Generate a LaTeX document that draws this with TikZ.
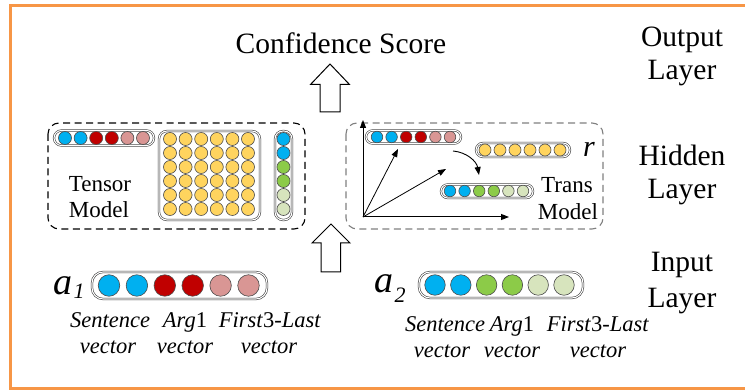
\documentclass[tikz,border=0pt]{standalone}
\usepackage{fontspec}
\setmainfont{LiberationSerif}[Extension=.ttf, UprightFont=*-Regular, ItalicFont=*-Italic, BoldFont=*-Bold, BoldItalicFont=*-BoldItalic]
\newcommand\tms{\rmfamily}
\usetikzlibrary{arrows.meta}
\definecolor{cblue}{HTML}{00B0F0}
\definecolor{cred}{HTML}{C00000}
\definecolor{cpink}{HTML}{D99694}
\definecolor{cgreen}{HTML}{8CCB48}
\definecolor{clgreen}{HTML}{D7E4BD}
\definecolor{cyellow}{HTML}{FFD45E}
\definecolor{corange}{HTML}{F79646}
\tikzset{
  dot/.style={circle, draw=black!70, line width=0.6pt, inner sep=0pt, minimum size=#1},
  capsule/.style={draw=black!80, double=white, double distance=1.1pt, line width=0.55pt},
  dashbox/.style={dash pattern=on 7pt off 4.5pt, line width=1.1pt, rounded corners=11pt},
  blockarrow/.style={draw=black, line width=1pt, fill=white, line join=miter},
  axis/.style={line width=1pt, -{Triangle[length=8pt,width=6pt]}},
  vec/.style={line width=0.8pt, -{Triangle[length=8pt,width=6pt]}},
  bigtxt/.style={font=\tms\fontsize{29.5}{34}\selectfont, inner sep=0pt, anchor=base},
  midtxt/.style={font=\tms\fontsize{23}{27}\selectfont, inner sep=0pt, anchor=base},
  lbl/.style={font=\tms\fontsize{22.5}{26}\selectfont, inner sep=0pt, anchor=base},
}
\begin{document}
\begin{tikzpicture}[x=1pt,y=-1pt]
\useasboundingbox (0,0) rectangle (745,390);
% orange frame
\draw[corange, line width=3pt] (745,6) -- (10,6) -- (10,388) -- (745,388);

% texts: output
\node[bigtxt] (conf) at (341,54) {Confidence Score};
\node[bigtxt] (outl1) at (682,47) {Output};
\node[bigtxt] (outl2) at (682,80) {Layer};
\node[bigtxt] (hidl1) at (682,166) {Hidden};
\node[bigtxt] (hidl2) at (682,199) {Layer};
\node[bigtxt] (inl1) at (682,272) {Input};
\node[bigtxt] (inl2) at (682,308) {Layer};

% block arrows
\draw[blockarrow] (330,64) -- (349.5,84.5) -- (340,84.5) -- (340,112) -- (320,112) -- (320,84.5) -- (310.5,84.5) -- cycle;
\draw[blockarrow] (331,224) -- (350,243) -- (340.5,243) -- (340.5,272) -- (321,272) -- (321,243) -- (312,243) -- cycle;

% hidden dashed boxes
\draw[dashbox, draw=black] (48,123) rectangle (305,229);
\draw[dashbox, draw=black!50] (346,123) rectangle (603,229);

% tensor model
\draw[capsule, rounded corners=7.5pt] (54,130.5) rectangle (154,145.5);
\foreach \c [count=\i from 0] in {cblue,cblue,cred,cred,cpink,cpink}
  \node[dot=13pt, fill=\c] (t\i) at ({65+15.6*\i},138) {};
\draw[capsule, rounded corners=8pt] (159,131) rectangle (260,220);
\foreach \r in {0,...,5}
  \foreach \k in {0,...,5}
    \node[dot=13pt, fill=cyellow] (m\r\k) at ({170+15.6*\k},{139+14*\r}) {};
\draw[capsule, rounded corners=8pt] (275,131) rectangle (292,220);
\foreach \c [count=\i from 0] in {cblue,cblue,cgreen,cgreen,clgreen,clgreen}
  \node[dot=13pt, fill=\c] (w\i) at (283.5,{139+14*\i}) {};
\node[midtxt] (tens1) at (100,192) {Tensor};
\node[midtxt] (tens2) at (99,218) {Model};

% trans model
\coordinate (O) at (363,217);
\coordinate (Y) at (363,120);
\coordinate (X) at (509,217);
\coordinate (v1) at (398,149);
\coordinate (v2) at (446,169);
\draw[axis] (O) -- (Y);
\draw[axis] (O) -- (X);
\draw[vec] (O) -- (v1);
\draw[vec] (O) -- (v2);
\draw[capsule, rounded corners=6.5pt] (366,130.5) rectangle (461,143.5);
\foreach \c [count=\i from 0] in {cblue,cblue,cred,cred,cpink,cpink}
  \node[dot=11.5pt, fill=\c] (h\i) at ({377+14.6*\i},137) {};
\draw[capsule, rounded corners=7pt] (476,143) rectangle (570,157);
\foreach \i in {0,...,5}
  \node[dot=12pt, fill=cyellow] (y\i) at ({485+15*\i},150) {};
\draw[capsule, rounded corners=6.5pt] (441,184.5) rectangle (533,198);
\foreach \c [count=\i from 0] in {cblue,cblue,cgreen,cgreen,clgreen,clgreen}
  \node[dot=11.5pt, fill=\c] (g\i) at ({450+14.6*\i},191) {};
\coordinate (cs) at (453,151);
\coordinate (ce) at (479,175);
\draw[vec, line width=0.9pt] (cs) to[out=-5, in=100] (ce);
\node[font=\tms\fontsize{30}{34}\selectfont\itshape, inner sep=0pt, anchor=base] (rr) at (589,157) {r};
\node[midtxt] (tr1) at (567,193) {Trans};
\node[midtxt] (tr2) at (568,220) {Model};

% input a1
\node[font=\tms\fontsize{38}{42}\selectfont\itshape, inner sep=0pt, anchor=base] (a1) at (63,295) {a};
\node[font=\tms\fontsize{22}{26}\selectfont\itshape, inner sep=0pt, anchor=base] (a1s) at (79,299) {1};
\draw[capsule, rounded corners=11pt] (92,272) rectangle (267,299);
\foreach \c [count=\i from 0] in {cblue,cblue,cred,cred,cpink,cpink}
  \node[dot=21.5pt, fill=\c] (p\i) at ({109+27.9*\i},285.5) {};
\node[lbl] (l1a) at (110,328) {\itshape Sentence};
\node[lbl] (l1b) at (108,353) {\itshape vector};
\node[lbl] (l1c) at (185,328) {\textit{Arg}1};
\node[lbl] (l1d) at (185,353) {\itshape vector};
\node[lbl] (l1e) at (270,328) {\textit{First}3\textit{-Last}};
\node[lbl] (l1f) at (269,353) {\itshape vector};

% input a2
\node[font=\tms\fontsize{38}{42}\selectfont\itshape, inner sep=0pt, anchor=base] (a2) at (384,293) {a};
\node[font=\tms\fontsize{22}{26}\selectfont\itshape, inner sep=0pt, anchor=base] (a2s) at (400,303) {2};
\draw[capsule, rounded corners=11pt] (419,272) rectangle (583,298);
\foreach \c [count=\i from 0] in {cblue,cblue,cgreen,cgreen,clgreen,clgreen}
  \node[dot=20.5pt, fill=\c] (q\i) at ({435+25.8*\i},285) {};
\node[lbl] (l2a) at (445,331) {\itshape Sentence};
\node[lbl] (l2b) at (442,357) {\itshape vector};
\node[lbl] (l2c) at (512,331) {\textit{Arg}1};
\node[lbl] (l2d) at (512,357) {\itshape vector};
\node[lbl] (l2e) at (598,331) {\textit{First}3\textit{-Last}};
\node[lbl] (l2f) at (598,357) {\itshape vector};
\end{tikzpicture}
\end{document}
